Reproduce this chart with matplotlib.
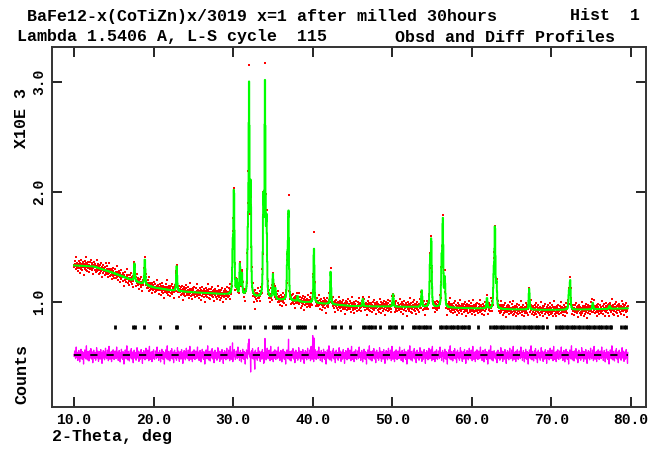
import numpy as np
import matplotlib
matplotlib.use("Agg")
import matplotlib.pyplot as plt

# ---- data (counts in units of 1000) ----
bg_tt = [10.0, 12.5, 15.0, 17.5, 20.0, 22.5, 25.0, 27.5, 30.0, 35.0, 40.0, 45.0, 50.0, 55.0, 60.0, 65.0, 70.0, 75.0, 79.6]
bg_val = [1.33, 1.32, 1.26, 1.19, 1.13, 1.10, 1.085, 1.075, 1.06, 1.02, 0.99, 0.96, 0.955, 0.95, 0.94, 0.93, 0.925, 0.93, 0.94]

peak_pos = [17.6, 18.9, 22.9, 29.95, 30.1, 30.45, 30.85, 31.1, 31.85, 32.0, 32.2,
            33.8, 34.0, 34.2, 35.0, 35.3, 36.8, 36.95, 38.1, 40.15, 42.25, 46.3,
            50.1, 53.7, 54.75, 54.9, 56.2, 56.35, 56.6, 61.9, 62.75, 62.9, 63.1,
            67.2, 72.2, 72.35, 75.2, 77.3]
peak_h = [0.16, 0.24, 0.24, 0.40, 0.95, 0.12, 0.28, 0.20, 0.45, 1.85, 0.95,
          0.85, 1.90, 0.65, 0.22, 0.10, 0.35, 0.80, 0.05, 0.50, 0.30, 0.07,
          0.12, 0.16, 0.40, 0.60, 0.40, 0.78, 0.25, 0.10, 0.30, 0.74, 0.22,
          0.19, 0.15, 0.26, 0.06, 0.03]

# obs - calc residuals, typed in, repeated along the scan
resid = [0.004, -0.012, 0.031, -0.002, 0.009, -0.027, 0.015, 0.061, -0.006, -0.018,
         0.022, 0.001, -0.041, 0.011, -0.008, 0.035, -0.015, 0.003, -0.052, 0.019,
         0.007, -0.024, 0.044, -0.010, 0.013, -0.001, -0.033, 0.026, -0.005, 0.010,
         -0.068, 0.017, 0.002, -0.020, 0.039, -0.013, 0.006, -0.029, 0.023, 0.070,
         -0.009, 0.014, -0.037, 0.000, 0.028, -0.016, 0.008, -0.045, 0.012, -0.003,
         0.033, -0.022, 0.005, 0.049, -0.011, -0.030, 0.018, -0.007, 0.024, -0.058,
         0.010, -0.014, 0.037, -0.004, 0.016, -0.026, 0.003, 0.021, -0.039, 0.008,
         -0.017, 0.056, -0.002, -0.023, 0.012, 0.030, -0.008, -0.048, 0.015, 0.001,
         -0.011, 0.027, -0.031, 0.006, 0.042, -0.019, 0.009, -0.005, -0.063, 0.020,
         0.011, -0.025, 0.034, -0.012, 0.004, 0.017, -0.036, 0.025, -0.001, 0.052,
         -0.015, 0.007, -0.028, 0.013, -0.006, 0.038, -0.021, 0.002, -0.043, 0.019,
         0.066, -0.010, 0.014, -0.032, 0.005, 0.023, -0.018, 0.009, -0.050, 0.029,
         -0.004, 0.016, -0.024, 0.040, -0.013, 0.001, -0.034]
spike_pos = [29.9, 30.1, 31.9, 32.0, 32.2, 32.7, 33.9, 34.0, 36.95, 40.0, 40.15, 54.9, 56.35, 62.9]
spike_val = [0.10, 0.08, 0.12, 0.19, -0.10, -0.14, -0.08, 0.11, 0.06, 0.15, 0.12, 0.05, 0.04, -0.05]

refl_pos = [15.15, 17.37, 17.66, 18.8, 20.8, 22.8, 22.95, 25.83, 28.84, 30.1, 30.44,
            30.85, 31.4, 32.1, 34.0, 35.0, 35.25, 35.5, 35.75, 36.0, 37.05, 38.05,
            38.3, 38.55, 38.8, 39.0, 40.3, 42.37, 42.79, 43.6, 44.67, 46.3, 46.6,
            46.9, 47.2, 47.5, 47.8, 48.4, 49.6, 49.9, 50.2, 50.5, 51.2, 52.6, 52.9,
            53.2, 53.5, 53.8, 54.1, 54.4, 54.7, 56.0, 56.3, 56.6, 56.9, 57.2, 57.5,
            57.8, 58.1, 58.3, 58.6, 58.9, 59.2, 59.5, 59.7, 60.8, 62.3, 62.6, 62.9,
            63.2, 63.5, 63.8, 64.1, 64.4, 64.8, 65.2, 65.5, 65.8, 66.1, 66.4, 66.7,
            67.0, 67.3, 67.6, 67.9, 68.2, 68.5, 68.8, 69.0, 69.4, 70.6, 70.9, 71.2,
            71.5, 71.8, 72.1, 72.4, 72.7, 73.0, 73.3, 73.6, 74.0, 74.3, 74.6, 74.9,
            75.2, 75.5, 75.8, 76.1, 76.4, 76.7, 77.0, 77.3, 77.5, 78.8, 79.1, 79.4]

x_ticks = [10, 20, 30, 40, 50, 60, 70, 80]
x_ticklabels = ["10.0", "20.0", "30.0", "40.0", "50.0", "60.0", "70.0", "80.0"]
y_ticks = [1.0, 2.0, 3.0]
y_ticklabels = ["1.0", "2.0", "3.0"]

DIFF_ZERO = 0.515
REFL_Y = 0.77

# ---- build profile from the read values ----
tt = np.arange(10.0, 79.62, 0.04)
calc = np.interp(tt, bg_tt, bg_val)
w = 0.07
for p, h in zip(peak_pos, peak_h):
    d = (tt - p) / w
    calc += h * (0.5 / (1 + d ** 2) + 0.5 * np.exp(-np.log(2) * d ** 2))

res = 1.2 * np.resize(np.array(resid), tt.size)
for p, v in zip(spike_pos, spike_val):
    res[np.argmin(np.abs(tt - p))] += v
obs = calc + res
diff = obs - calc + DIFF_ZERO

# ---- figure ----
plt.rcParams['font.family'] = ['Liberation Mono', 'DejaVu Sans Mono']
fig = plt.figure(figsize=(6.5, 4.5), dpi=100)
ax = fig.add_axes([52 / 650, 1 - 407 / 450, 594 / 650, 360 / 450])

ax.scatter(tt, obs, s=2.5, marker='s', color='red', linewidths=0, zorder=2)
ax.plot(tt, calc, color='#00ff00', lw=1.4, drawstyle='steps-mid', zorder=3)
ax.plot(tt, diff, color='#ff00ff', lw=0.9, zorder=2)
ax.plot([tt[0], tt[-1]], [DIFF_ZERO, DIFF_ZERO], color='black', lw=1.3,
        dashes=(4, 5), zorder=4)
ax.vlines(refl_pos, REFL_Y - 0.022, REFL_Y + 0.022, color='black', lw=2.0, zorder=3)

ax.set_xlim(7.235, 81.885)
ax.set_ylim(0.043, 3.315)
ax.set_xticks(x_ticks)
ax.set_xticklabels(x_ticklabels)
ax.set_yticks(y_ticks)
ax.set_yticklabels(y_ticklabels, rotation=90, va='center')
ax.tick_params(axis='x', direction='in', length=7, width=1.2, top=True,
               labelsize=10.5, pad=4)
ax.tick_params(axis='y', direction='in', length=7, width=1.2, right=True,
               labelsize=10.5, pad=4)
for lab in ax.get_xticklabels() + ax.get_yticklabels():
    lab.set_fontweight('bold')
for s in ax.spines.values():
    s.set_linewidth(1.4)
    s.set_color('#333333')

fs = 12
kw = dict(fontsize=fs, fontweight='bold', va='center')
fig.text(27 / 650, 1 - 16 / 450, "BaFe12-x(CoTiZn)x/3019 x=1 after milled 30hours",
         ha='left', **kw)
fig.text(640 / 650, 1 - 16 / 450, "Hist  1", ha='right', **kw)
fig.text(17 / 650, 1 - 37 / 450, "Lambda 1.5406 A, L-S cycle  115", ha='left', **kw)
fig.text(615 / 650, 1 - 37 / 450, "Obsd and Diff Profiles", ha='right', **kw)
fig.text(52 / 650, 1 - 437 / 450, "2-Theta, deg", ha='left', **kw)
fig.text(22 / 650, 1 - 118 / 450, "X10E 3", rotation=90, ha='center', **kw)
fig.text(22 / 650, 1 - 374 / 450, "Counts", rotation=90, ha='center', **kw)

fig.savefig("out.png", dpi=100)
